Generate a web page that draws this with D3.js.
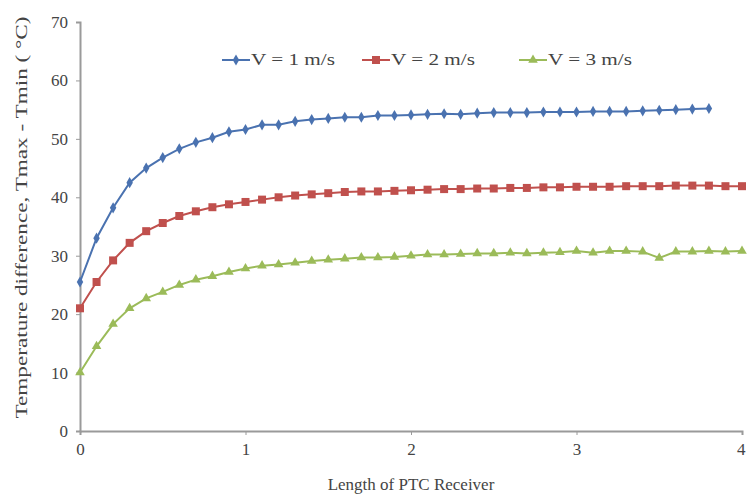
<!DOCTYPE html>
<html>
<head>
<meta charset="utf-8">
<script src="https://cdn.jsdelivr.net/npm/d3@7"></script>
<style>
	body { margin: 0; background: #fff; }
	svg { display: block; }
	svg text { font-family: "Times New Roman", "Liberation Serif", Tinos, serif; }
</style>
</head>
<body>
<svg id="chart" width="747" height="496"></svg>
<script>
// values, one point every 0.1 along the receiver
const v1 = [25.5, 33.0, 38.2, 42.5, 45.0, 46.8, 48.3, 49.4, 50.2, 51.2,
	51.6, 52.4, 52.4, 53.0, 53.3, 53.5, 53.7, 53.7, 54.0, 54.0,
	54.1, 54.2, 54.3, 54.2, 54.4, 54.5, 54.5, 54.5, 54.6, 54.6,
	54.6, 54.7, 54.7, 54.7, 54.8, 54.9, 55.0, 55.1, 55.2];
const v2 = [21.0, 25.5, 29.2, 32.2, 34.2, 35.6, 36.8, 37.6, 38.3, 38.8,
	39.2, 39.6, 40.0, 40.3, 40.5, 40.7, 40.9, 41.0, 41.0, 41.1,
	41.2, 41.3, 41.4, 41.4, 41.5, 41.5, 41.6, 41.6, 41.7, 41.7,
	41.8, 41.8, 41.8, 41.9, 41.9, 41.9, 42.0, 42.0, 42.0, 41.9, 41.9];
const v3 = [10.0, 14.5, 18.3, 21.0, 22.7, 23.8, 25.0, 25.9, 26.5, 27.2,
	27.8, 28.3, 28.5, 28.8, 29.1, 29.3, 29.5, 29.7, 29.7, 29.8,
	30.0, 30.2, 30.2, 30.3, 30.4, 30.4, 30.5, 30.4, 30.5, 30.6,
	30.8, 30.5, 30.8, 30.8, 30.7, 29.6, 30.7, 30.7, 30.8, 30.7, 30.8];
const seriesNames = ["V = 1 m/s", "V = 2 m/s", "V = 3 m/s"];
const xTicks = [0, 1, 2, 3, 4];
const yTicks = [0, 10, 20, 30, 40, 50, 60, 70];

const series = [
	{ name: seriesNames[0], values: v1, color: "#4A72B0", marker: "diamond" },
	{ name: seriesNames[1], values: v2, color: "#C0504D", marker: "square" },
	{ name: seriesNames[2], values: v3, color: "#9BBB59", marker: "triangle" },
];

const svg = d3.select("#chart");
const margin = { left: 80, right: 5, top: 22, bottom: 65 };
const width = 747, height = 496;

const x = d3.scaleLinear().domain([0, 4]).range([margin.left, width - margin.right]);
const y = d3.scaleLinear().domain([0, 70]).range([height - margin.bottom, margin.top]);

const axisColor = "#9a9a9a";
const textColor = "#444";

// axes
const gx = svg.append("g")
	.attr("transform", `translate(0,${y(0)})`)
	.call(d3.axisBottom(x).tickValues(xTicks).tickSize(4).tickPadding(8).tickFormat(d3.format("d")));
const gy = svg.append("g")
	.attr("transform", `translate(${x(0)},0)`)
	.call(d3.axisLeft(y).tickValues(yTicks).tickSize(4).tickPadding(8));

[gx, gy].forEach((ax) => {
	ax.attr("font-family", null);
	ax.select(".domain").attr("stroke", axisColor).attr("stroke-width", 2);
	ax.selectAll(".tick line").attr("stroke", axisColor).attr("stroke-width", 1);
	ax.selectAll(".tick text")
		.attr("fill", textColor)
		.attr("font-size", 17);
});
// last x label sits against the right edge
gx.selectAll(".tick text").filter((d) => d === 4).attr("text-anchor", "end").attr("dx", 3);

// axis titles
svg.append("text")
	.attr("x", (x(0) + x(4)) / 2)
	.attr("y", 490)
	.attr("text-anchor", "middle")
	.attr("fill", textColor)
	.attr("font-size", 17)
	.text("Length of PTC Receiver");

svg.append("text")
	.attr("transform", `translate(27,${(y(0) + y(70)) / 2 - 9}) rotate(-90)`)
	.attr("text-anchor", "middle")
	.attr("fill", textColor)
	.attr("font-size", 17)
	.attr("textLength", 402)
	.attr("lengthAdjust", "spacingAndGlyphs")
	.text("Temperature difference, Tmax - Tmin ( \u00B0C)");

// marker shapes
const symbolFor = {
	diamond: d3.symbol().type(d3.symbolDiamond).size(36),
	square: d3.symbol().type(d3.symbolSquare).size(64),
	triangle: d3.symbol().type(d3.symbolTriangle).size(40),
};

const line = d3.line()
	.x((d, i) => x(i * 0.1))
	.y((d) => y(d));

const g_series = svg.append("g");
series.forEach((s) => {
	const gs = g_series.append("g");
	gs.append("path")
		.datum(s.values)
		.attr("fill", "none")
		.attr("stroke", s.color)
		.attr("stroke-width", 2)
		.attr("d", line);
	gs.selectAll(".pt")
		.data(s.values)
		.join("path")
		.attr("class", "pt")
		.attr("fill", s.color)
		.attr("transform", (d, i) => `translate(${x(i * 0.1)},${y(d)})`)
		.attr("d", symbolFor[s.marker]());
});

// legend
const legendX = [222, 362, 519];
const legend = svg.append("g");
series.forEach((s, i) => {
	const lg = legend.append("g").attr("transform", `translate(${legendX[i]},60)`);
	lg.append("line")
		.attr("x1", 0).attr("x2", 28)
		.attr("stroke", s.color).attr("stroke-width", 2);
	lg.append("path")
		.attr("transform", "translate(14,0)")
		.attr("fill", s.color)
		.attr("d", symbolFor[s.marker]());
	lg.append("text")
		.attr("x", 29)
		.attr("y", 5)
		.attr("fill", textColor)
		.attr("font-size", 17)
		.attr("textLength", 84)
		.attr("lengthAdjust", "spacingAndGlyphs")
		.text(s.name);
});
</script>
</body>
</html>
